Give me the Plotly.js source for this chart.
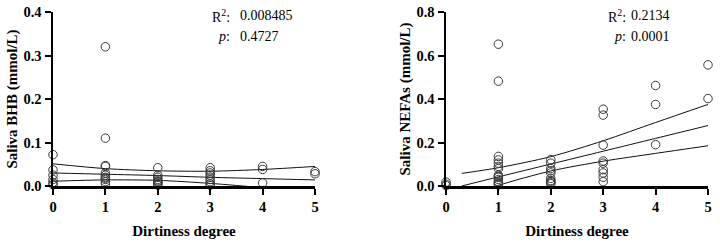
<!DOCTYPE html>
<html><head><meta charset="utf-8">
<script src="https://cdn.plot.ly/plotly-3.0.1.min.js"></script>
<style>html,body{margin:0;padding:0;background:#fff;}#chart{width:720px;height:249px;}</style>
</head><body><div id="chart"></div>
<script>
// BHB panel data
const bhbX = [0,0,0,0,0,0, 1,1,1,1,1,1,1,1,1,1,1, 2,2,2,2,2,2,2,2,2, 3,3,3,3,3,3,3,3,3, 4,4,4, 5,5];
const bhbY = [0.072,0.037,0.025,0.015,0.008,0.003, 0.32,0.11,0.047,0.045,0.03,0.025,0.02,0.018,0.015,0.01,0.005, 0.042,0.025,0.02,0.015,0.012,0.01,0.008,0.005,0.002, 0.042,0.035,0.03,0.025,0.02,0.015,0.01,0.005,0.002, 0.045,0.038,0.007, 0.033,0.028];
const bhbBandX = [0,1,2,3,4,5];
const bhbUpper = [0.051,0.040,0.035,0.034,0.038,0.045];
const bhbFit = [0.030,0.027,0.024,0.020,0.017,0.014];
const bhbLower = [0.011,0.014,0.013,0.006,-0.004,-0.017];

// NEFAs panel data
const nefaX = [0,0,0, 1,1,1,1,1,1,1,1,1,1,1,1,1,1,1, 2,2,2,2,2,2,2,2,2,2, 3,3,3,3,3,3,3,3,3, 4,4,4, 5,5];
const nefaY = [0.018,0.008,0.002, 0.652,0.482,0.136,0.12,0.105,0.09,0.08,0.05,0.045,0.04,0.03,0.02,0.015,0.01,0.005, 0.121,0.105,0.08,0.07,0.06,0.035,0.025,0.02,0.015,0.01, 0.353,0.326,0.188,0.115,0.105,0.075,0.06,0.04,0.02, 0.462,0.375,0.19, 0.557,0.402];
const nefaBandX = [0.3,1,2,3,4,5];
const nefaUpper = [0.058,0.084,0.135,0.208,0.292,0.375];
const nefaFit = [0,0.042,0.101,0.160,0.219,0.278];
const nefaLower = [-0.058,0.003,0.069,0.114,0.150,0.185];

const xTicks = [0,1,2,3,4,5];
const bhbTicks = [0,0.1,0.2,0.3,0.4];
const bhbTickText = ['0.0','0.1','0.2','0.3','0.4'];
const nefaTicks = [0,0.2,0.4,0.6,0.8];
const nefaTickText = ['0.0','0.2','0.4','0.6','0.8'];

const FONT = 'Liberation Serif, Times New Roman, serif';
const marker = {symbol:'circle-open', size:8.5, color:'#3a3a3a', line:{width:1, color:'#3a3a3a'}};
function lineTrace(x,y,xa,ya){
  return {x:x,y:y,xaxis:xa,yaxis:ya,mode:'lines',line:{color:'#111',width:1,shape:'spline',smoothing:0.8},cliponaxis:true,hoverinfo:'skip',showlegend:false};
}
const traces = [
  lineTrace(bhbBandX,bhbUpper,'x','y'),
  lineTrace(bhbBandX,bhbFit,'x','y'),
  lineTrace(bhbBandX,bhbLower,'x','y'),
  {x:bhbX,y:bhbY,xaxis:'x',yaxis:'y',mode:'markers',marker:marker,cliponaxis:false,showlegend:false},
  lineTrace(nefaBandX,nefaUpper,'x2','y2'),
  lineTrace(nefaBandX,nefaFit,'x2','y2'),
  lineTrace(nefaBandX,nefaLower,'x2','y2'),
  {x:nefaX,y:nefaY,xaxis:'x2',yaxis:'y2',mode:'markers',marker:marker,cliponaxis:false,showlegend:false}
];

const axBase = {showline:true, linewidth:2.5, linecolor:'#000', ticks:'outside', ticklen:6, tickwidth:2, tickcolor:'#000',
  showgrid:false, zeroline:false, tickfont:{family:FONT, size:14.5, color:'#000', weight:'bold'}, fixedrange:true};
const titleFont = {family:FONT, size:15, color:'#000', weight:'bold'};

const W=720, plotTop=12, plotBottom=186;
const py = p => (plotBottom-p)/(plotBottom-plotTop);
const annFont = {family:FONT, size:14, color:'#000'};
function ann(text,px,pyv,anchor){
  return {text:text, xref:'paper', yref:'paper', x:px/W, y:py(pyv), xanchor:anchor, yanchor:'middle', showarrow:false, font:annFont};
}

const layout = {
  width:720, height:249,
  margin:{l:0,r:0,t:plotTop,b:249-plotBottom},
  paper_bgcolor:'#fff', plot_bgcolor:'#fff',
  showlegend:false,
  xaxis: Object.assign({}, axBase, {domain:[53/W,315/W], range:[0,5], tickvals:xTicks, anchor:'y',
    title:{text:'Dirtiness degree', font:titleFont, standoff:12}}),
  yaxis: Object.assign({}, axBase, {domain:[0,1], range:[0,0.4], tickvals:bhbTicks, ticktext:bhbTickText, anchor:'x',
    title:{text:'Saliva BHB (mmol/L)', font:titleFont, standoff:2}}),
  xaxis2: Object.assign({}, axBase, {domain:[446/W,708/W], range:[0,5], tickvals:xTicks, anchor:'y2',
    title:{text:'Dirtiness degree', font:titleFont, standoff:12}}),
  yaxis2: Object.assign({}, axBase, {domain:[0,1], range:[0,0.8], tickvals:nefaTicks, ticktext:nefaTickText, anchor:'x2',
    title:{text:'Saliva NEFAs (mmol/L)', font:titleFont, standoff:2}}),
  annotations:[
    ann('R<sup>2</sup>:',232,16,'right'), ann('0.008485',238,16,'left'),
    ann('<i>p</i>:',232,36,'right'), ann('0.4727',238,36,'left'),
    ann('R<sup>2</sup>:',628,16,'right'), ann('0.2134',629,16,'left'),
    ann('<i>p</i>:',628,36,'right'), ann('0.0001',629,36,'left')
  ]
};
Plotly.newPlot('chart', traces, layout, {staticPlot:true, displayModeBar:false});
</script></body></html>
